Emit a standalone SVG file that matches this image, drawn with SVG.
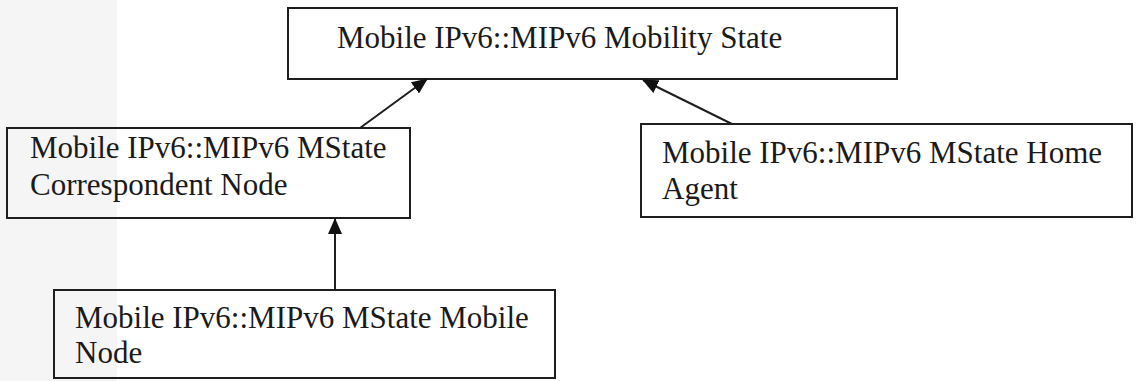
<svg xmlns="http://www.w3.org/2000/svg" width="1138" height="381" viewBox="0 0 1138 381">
<style>
.box{fill:none;stroke:#1e1e1e;stroke-width:2}
.t{font-family:'Liberation Serif','Times New Roman',Times,serif;font-size:31px;fill:#1a1a1a}
.c{stroke:#1e1e1e;stroke-width:2;fill:none}
</style>
<defs>
<marker id="ah" markerWidth="16" markerHeight="14" refX="15" refY="7" orient="auto" markerUnits="userSpaceOnUse">
<path d="M0,0 L16,7 L0,14 Z" fill="#111"/>
</marker>
</defs>
<rect x="0" y="0" width="1138" height="381" fill="#fff"/>
<rect x="0" y="0" width="117" height="381" fill="#f5f5f5"/>
<g id="n-state">
<rect class="box" x="288" y="8" width="609" height="71"/>
<text class="t" x="337" y="48">Mobile IPv6::MIPv6 Mobility State</text>
</g>
<g id="n-cn">
<rect class="box" x="7" y="128" width="403" height="90"/>
<text class="t" x="30" y="158">Mobile IPv6::MIPv6 MState</text>
<text class="t" x="30" y="195">Correspondent Node</text>
</g>
<g id="n-ha">
<rect class="box" x="641" y="124" width="491" height="93"/>
<text class="t" x="662" y="163">Mobile IPv6::MIPv6 MState Home</text>
<text class="t" x="662" y="199">Agent</text>
</g>
<g id="n-mn">
<rect class="box" x="54" y="290" width="501" height="88"/>
<text class="t" x="75" y="328">Mobile IPv6::MIPv6 MState Mobile</text>
<text class="t" x="75" y="363">Node</text>
</g>
<g id="connectors">
<line class="c" x1="360" y1="128" x2="427" y2="79" marker-end="url(#ah)"/>
<line class="c" x1="732" y1="124" x2="643" y2="80" marker-end="url(#ah)"/>
<line class="c" x1="335" y1="290" x2="335" y2="219" marker-end="url(#ah)"/>
</g>
</svg>
